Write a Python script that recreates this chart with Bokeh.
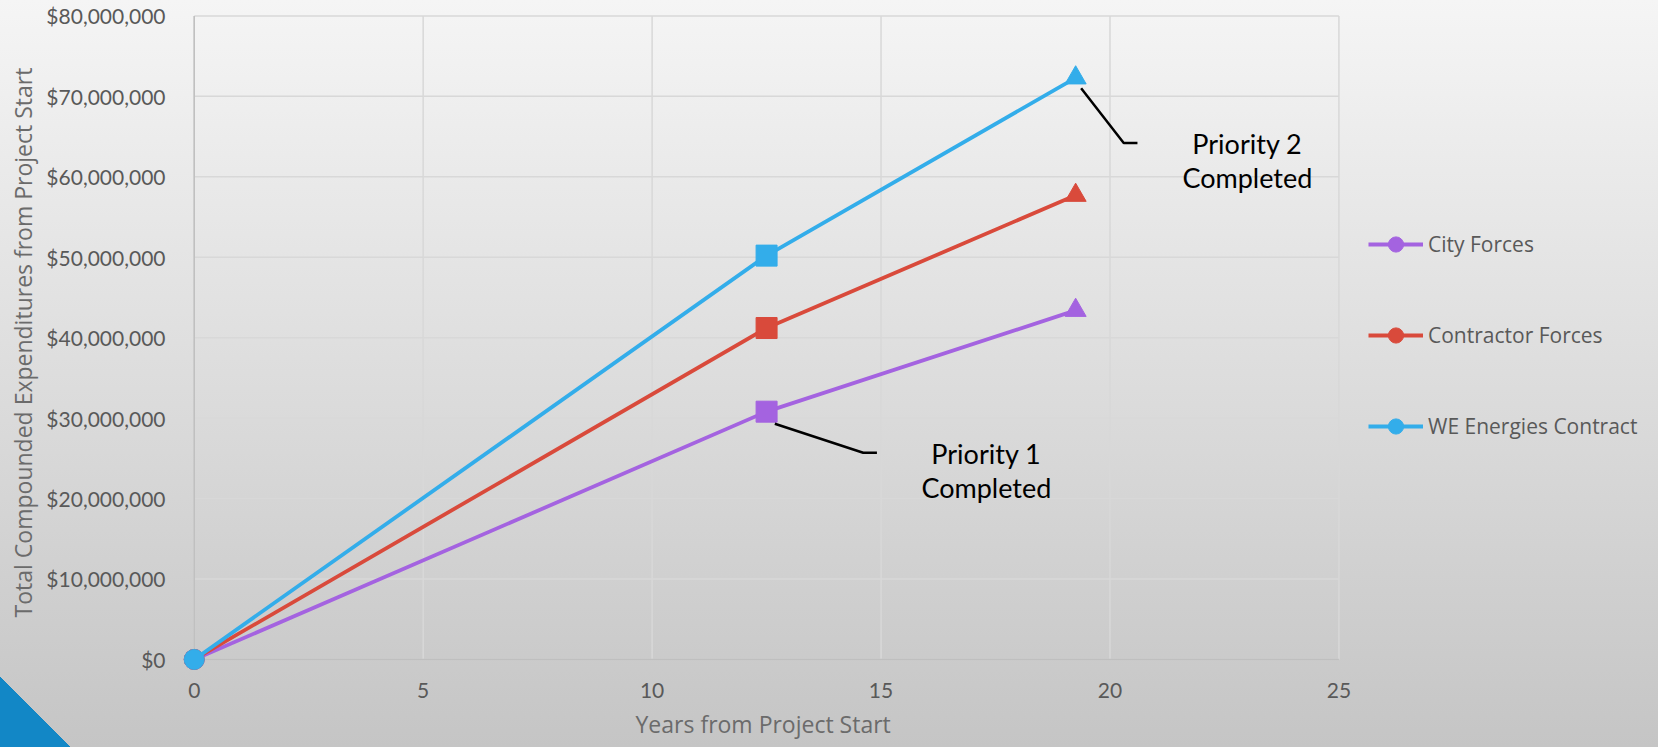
from bokeh.plotting import figure
from bokeh.models import (Range1d, FixedTicker, NumeralTickFormatter, Legend,
                          LegendItem, ColumnDataSource, Title)
from bokeh.core.properties import value
from bokeh.embed import file_html
from bokeh.resources import INLINE

# Cumulative expenditures by delivery method
series_names = ["City Forces", "Contractor Forces", "WE Energies Contract"]
years = [0, 12.5, 19.25]
city_forces = [0, 30_800_000, 43_400_000]
contractor_forces = [0, 41_200_000, 57_700_000]
we_energies = [0, 50_200_000, 72_300_000]
series_values = [city_forces, contractor_forces, we_energies]
series_colors = ["#a463e0", "#d94a3b", "#33adea"]

y_ticks = list(range(0, 80_000_001, 10_000_000))
x_ticks = [0, 5, 10, 15, 20, 25]
x_min, x_max = 0, 25
y_min, y_max = 0, 80_000_000

# Milestone callouts: leader lines and labels (data units)
p1_leader_x = [12.68, 14.61, 14.91]
p1_leader_y = [29_300_000, 25_700_000, 25_700_000]
p1_text_x = 17.3
p1_text_y = [25_600_000, 21_400_000]
p2_leader_x = [19.37, 20.3, 20.6]
p2_leader_y = [71_000_000, 64_200_000, 64_200_000]
p2_text_x = 23.0
p2_text_y = [64_100_000, 59_950_000]

# The frame runs past x=25 so the legend can sit to the right of the grid;
# a little padding below/left keeps the origin marker whole.
FRAME_W, FRAME_H = 1476, 658
px_per_year = 1163 / 25.4
x_start = -0.3
x_end = x_start + FRAME_W / px_per_year

p = figure(frame_width=FRAME_W, frame_height=FRAME_H, output_backend="svg",
           toolbar_location=None,
           x_range=Range1d(x_start, x_end),
           y_range=Range1d(-1_500_000, 80_300_000),
           min_border_left=180, min_border_right=2, min_border_top=13,
           min_border_bottom=76)

p.styles = {
    "background": ("linear-gradient(to top right, #1287c6 50%, transparent 50.5%) "
                   "left bottom / 70px 70px no-repeat, "
                   "linear-gradient(to bottom, #f5f5f5, #c5c5c5)")
}
p.border_fill_alpha = 0
p.background_fill_alpha = 0
p.outline_line_color = None
p.xgrid.visible = False
p.ygrid.visible = False

# grid lines drawn over the data extent only
p.segment(x0=[x_min] * len(y_ticks), x1=[x_max] * len(y_ticks), y0=y_ticks,
          y1=y_ticks, line_color="#d8d8d8", line_width=1.5)
p.segment(x0=x_ticks, x1=x_ticks, y0=[y_min] * len(x_ticks),
          y1=[y_max] * len(x_ticks), line_color="#d8d8d8", line_width=1.5)
# axis lines at zero
p.segment(x0=[x_min, x_min], x1=[x_max, x_min], y0=[y_min, y_min],
          y1=[y_min, y_max], line_color="#bfbfbf", line_width=1.5)

# axes (labels only; lines drawn above)
xa = p.xaxis[0]
ya = p.yaxis[0]
xa.ticker = FixedTicker(ticks=x_ticks)
ya.ticker = FixedTicker(ticks=y_ticks)
ya.formatter = NumeralTickFormatter(format="$0,0")
for ax in (xa, ya):
    ax.axis_line_color = None
    ax.major_tick_line_color = None
    ax.minor_tick_line_color = None
    ax.major_label_text_font = "Lato"
    ax.major_label_text_font_size = "21px"
    ax.major_label_text_color = "#595959"
    ax.axis_label_text_font = "Open Sans"
    ax.axis_label_text_font_size = "23px"
    ax.axis_label_text_font_style = "normal"
    ax.axis_label_text_color = "#6b6b6b"
xa.major_label_standoff = 5
ya.major_label_standoff = 9
ya.axis_label = "Total Compounded Expenditures from Project Start"
ya.axis_label_standoff = 4

# x-axis title, centred under the 0-25 grid rather than the wider frame
x_title = Title(text="Years from Project Start", align="left", offset=455,
                text_font="Open Sans", text_font_size="23px",
                text_font_style="normal", text_color="#6b6b6b", standoff=11)
p.add_layout(x_title, "below")

markers = ["circle", "square", "triangle"]
legend_items = []
for name, vals, color in zip(series_names, series_values, series_colors):
    src = ColumnDataSource(data=dict(x=years, y=vals))
    line = p.line("x", "y", source=src, line_color=color, line_width=3.8)
    start = p.scatter(x=years[:1], y=vals[:1], marker="circle", size=20,
                      fill_color=color, line_color=color)
    p.scatter(x=years[1:], y=vals[1:], marker=markers[1:], size=21,
              fill_color=color, line_color=color)
    legend_items.append(LegendItem(label=name, renderers=[line, start]))

# callouts
p.line(p1_leader_x, p1_leader_y, line_color="black", line_width=2.5)
p.line(p2_leader_x, p2_leader_y, line_color="black", line_width=2.5)
p.text(x=[p1_text_x] * 2, y=p1_text_y, text=["Priority 1", "Completed"],
       text_font=value("Lato"), text_font_size="27px", text_color="black",
       text_align="center", text_baseline="middle")
p.text(x=[p2_text_x] * 2, y=p2_text_y, text=["Priority 2", "Completed"],
       text_font=value("Lato"), text_font_size="27px", text_color="black",
       text_align="center", text_baseline="middle")

legend = Legend(items=legend_items, location=(1188, 226), orientation="vertical")
legend.background_fill_alpha = 0
legend.border_line_color = None
legend.padding = 0
legend.margin = 0
legend.label_text_font = "Open Sans"
legend.label_text_font_size = "21px"
legend.label_text_color = "#595959"
legend.glyph_width = 55
legend.glyph_height = 38
legend.label_height = 38
legend.spacing = 53
legend.label_standoff = 5
p.add_layout(legend, "center")

open("out.html", "w").write(file_html(p, INLINE))
